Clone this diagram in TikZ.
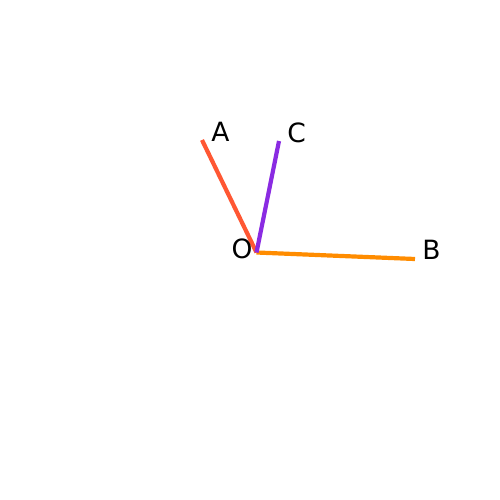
\documentclass[tikz,border=0pt]{standalone}
\usepackage{fontspec}
\setmainfont{DejaVu Sans}
\definecolor{cA}{HTML}{FF5733}
\definecolor{cC}{HTML}{8A2BE2}
\definecolor{cB}{HTML}{FF8C00}
\begin{document}
\begin{tikzpicture}[x=1pt,y=-1pt,
  seg/.style={line width=4.2pt},
  lbl/.style={inner sep=0pt,font=\fontsize{26.5}{26.5}\selectfont}]
\useasboundingbox (0,0) rectangle (500,500);
\coordinate (O) at (256.5,252.5);
\coordinate (A) at (202,140);
\coordinate (C) at (279,141);
\coordinate (B) at (415,259);
\draw[seg,cA] (O) -- (A);
\draw[seg,cB] (O) -- (B);
\draw[seg,cC] (O) -- (C);
\node[lbl] (lA) at (220.5,132) {A};
\node[lbl] (lC) at (296.5,133) {C};
\node[lbl] (lO) at (242,249) {O};
\node[lbl] (lB) at (431.5,249.5) {B};
\end{tikzpicture}
\end{document}
